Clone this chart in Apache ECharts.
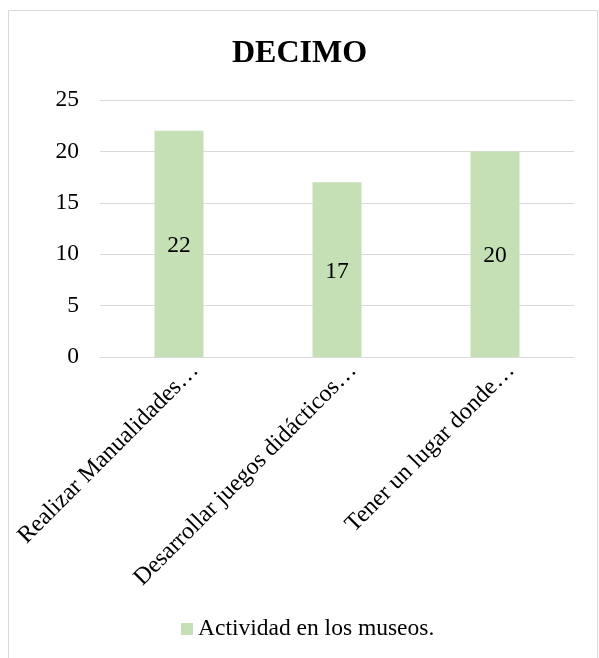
<!DOCTYPE html>
<html>
<head>
<meta charset="utf-8">
<script src="https://cdn.jsdelivr.net/npm/echarts@6/dist/echarts.min.js"></script>
<style>
html,body{margin:0;padding:0;background:#fff;}
#c{width:599px;height:658px;}
</style>
</head>
<body>
<div id="c"></div>
<script>
var categories = ['Realizar Manualidades…', 'Desarrollar juegos didácticos…', 'Tener un lugar donde…'];
var values = [22, 17, 20];
var seriesName = 'Actividad en los museos.';
var titleText = 'DECIMO';

var font = '"Liberation Serif", "Times New Roman", serif';
var chart = echarts.init(document.getElementById('c'));
chart.setOption({
  animation: false,
  backgroundColor: '#fff',
  graphic: [{
    type: 'rect',
    shape: {x: 8.5, y: 10.5, width: 589, height: 660},
    style: {fill: 'none', stroke: '#d9d9d9', lineWidth: 1}
  }],
  title: {
    text: titleText,
    left: 'center',
    top: 33,
    textStyle: {fontFamily: font, fontWeight: 'bold', fontSize: 32, color: '#000'}
  },
  grid: {left: 100, right: 25, top: 100, bottom: 301},
  xAxis: {
    type: 'category',
    data: categories,
    axisLine: {lineStyle: {color: '#d9d9d9', width: 1}},
    axisTick: {show: false},
    axisLabel: {rotate: 45, interval: 0, margin: -6, verticalAlign: 'top', lineHeight: 45,
      fontFamily: font, fontSize: 24, color: '#000'}
  },
  yAxis: {
    type: 'value',
    min: 0, max: 25, interval: 5,
    axisLine: {show: false},
    axisTick: {show: false},
    splitLine: {lineStyle: {color: '#d9d9d9', width: 1}},
    axisLabel: {margin: 21, fontFamily: font, fontSize: 23.5, color: '#000'}
  },
  legend: {
    top: 612,
    left: 176,
    icon: 'rect',
    itemWidth: 12,
    itemHeight: 12,
    itemGap: 5,
    textStyle: {fontFamily: font, fontSize: 23.5, color: '#000'},
    data: [seriesName]
  },
  series: [{
    name: seriesName,
    type: 'bar',
    data: values,
    barWidth: 49,
    itemStyle: {color: '#c5e0b4'},
    label: {show: true, position: 'inside', offset: [0, 2], fontFamily: font, fontSize: 23.5, color: '#000'}
  }]
});
</script>
</body>
</html>
